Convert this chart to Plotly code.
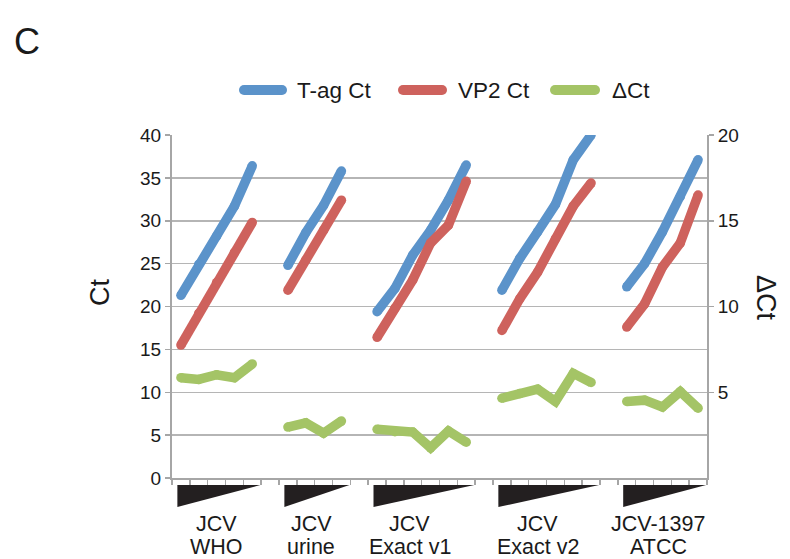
import plotly.graph_objects as go

# ---- data ----
group_line1 = ["JCV", "JCV", "JCV", "JCV", "JCV-1397"]
group_line2 = ["WHO", "urine", "Exact v1", "Exact v2", "ATCC"]
group_start = [0, 6, 11, 18, 25]          # first category index of each group
n_categories = 30

tag_who = [21.3, 24.9, 28.2, 31.7, 36.4]
tag_urine = [24.8, 28.6, 31.8, 35.8]
tag_v1 = [19.4, 22.1, 26.0, 28.9, 32.4, 36.5]
tag_v2 = [21.9, 25.6, 28.7, 31.9, 37.1, 40.0]
tag_atcc = [22.3, 25.0, 28.7, 32.8, 37.1]

vp2_who = [15.5, 19.2, 22.8, 26.3, 29.8]
vp2_urine = [21.9, 25.4, 28.9, 32.4]
vp2_v1 = [16.4, 19.8, 23.1, 27.4, 29.5, 34.6]
vp2_v2 = [17.2, 20.9, 24.0, 27.9, 31.7, 34.4]
vp2_atcc = [17.6, 20.3, 24.6, 27.4, 33.0]

dct_who = [5.85, 5.75, 6.02, 5.85, 6.65]
dct_urine = [2.97, 3.22, 2.62, 3.32]
dct_v1 = [2.84, 2.7, 2.68, 1.76, 2.74, 2.09]
dct_v2 = [4.65, 4.92, 5.18, 4.46, 6.1, 5.57]
dct_atcc = [4.46, 4.54, 4.14, 5.04, 4.07]

left_ticks = [0, 5, 10, 15, 20, 25, 30, 35, 40]
right_ticks = [5, 10, 15, 20]

series_names = ["T-ag Ct", "VP2 Ct", "\u0394Ct"]
colors = ["#5B93CA", "#CE625D", "#A4C466"]

# ---- layout geometry (pixels) ----
W, H = 790, 559
ML, MR, MT, MB = 172, 83, 135, 81
PW, PH = W - ML - MR, H - MT - MB


def px(x):
    return (x - ML) / PW


def py(y):
    return (H - MB - y) / PH


def assemble(parts):
    xs, ys = [], []
    for start, vals in zip(group_start, parts):
        if xs:
            xs.append(start - 1)
            ys.append(None)
        xs.extend(range(start, start + len(vals)))
        ys.extend(vals)
    return xs, ys


tag_x, tag_y = assemble([tag_who, tag_urine, tag_v1, tag_v2, tag_atcc])
vp2_x, vp2_y = assemble([vp2_who, vp2_urine, vp2_v1, vp2_v2, vp2_atcc])
dct_x, dct_y = assemble([dct_who, dct_urine, dct_v1, dct_v2, dct_atcc])
group_len = [len(v) for v in [tag_who, tag_urine, tag_v1, tag_v2, tag_atcc]]

LW = 9.5
fig = go.Figure()
for (xs, ys, name, col, ax) in [(tag_x, tag_y, series_names[0], colors[0], "y"),
                                 (vp2_x, vp2_y, series_names[1], colors[1], "y"),
                                 (dct_x, dct_y, series_names[2], colors[2], "y2")]:
    fig.add_trace(go.Scatter(x=xs, y=ys, mode="lines+markers", name=name, yaxis=ax,
                             line=dict(color=col, width=LW), connectgaps=False,
                             marker=dict(color=col, size=LW, line=dict(width=0)),
                             cliponaxis=True, showlegend=False, hoverinfo="skip"))

axis_gray = "#A6A6A6"
font_main = "Liberation Sans, Arial, sans-serif"
txt = "#1a1a1a"

shapes = []
annotations = []

# wedges and group labels below the x axis
label_x_px = [216, 311, 409.5, 537.5, 658]
for start, n, l1, l2, lx in zip(group_start, group_len, group_line1, group_line2, label_x_px):
    x0 = start - 0.2
    x1 = start + n - 1 + 0.45
    shapes.append(dict(type="path", xref="x", yref="paper",
                       path=f"M {x0},{py(485)} L {x1},{py(485)} L {x0},{py(507)} Z",
                       fillcolor="#231F20", line=dict(width=0)))
    for t, yy in [(l1, 523.5), (l2, 547)]:
        annotations.append(dict(x=px(lx), y=py(yy), xref="paper", yref="paper", text=t,
                                showarrow=False, xanchor="center", yanchor="middle",
                                font=dict(size=21.5, color=txt, family=font_main)))

# manual legend
leg = [(239, 287, 295), (398, 447, 456), (550, 600, 610)]
LY = 90
for (a, b, tx), name, col in zip(leg, series_names, colors):
    r = 5
    shapes.append(dict(type="line", xref="paper", yref="paper", x0=px(a + r), x1=px(b - r),
                       y0=py(LY), y1=py(LY), line=dict(color=col, width=2 * r)))
    for cx in (a + r, b - r):
        shapes.append(dict(type="circle", xref="paper", yref="paper",
                           x0=px(cx - r), x1=px(cx + r), y0=py(LY - r), y1=py(LY + r),
                           fillcolor=col, line=dict(width=0)))
    annotations.append(dict(x=px(tx), y=py(LY), xref="paper", yref="paper", text=name,
                            showarrow=False, xanchor="left", yanchor="middle",
                            font=dict(size=22.5, color=txt, family=font_main)))

annotations.append(dict(x=px(12), y=py(41), xref="paper", yref="paper", xanchor="left",
                        yanchor="middle", text="C", showarrow=False,
                        font=dict(size=36, color=txt, family=font_main)))
annotations.append(dict(x=px(100), y=py(293), xref="paper", yref="paper", text="Ct",
                        textangle=-90, showarrow=False, xanchor="center", yanchor="middle",
                        font=dict(size=27, color=txt, family=font_main)))
annotations.append(dict(x=px(766), y=py(298), xref="paper", yref="paper", text="\u0394Ct",
                        textangle=90, showarrow=False, xanchor="center", yanchor="middle",
                        font=dict(size=27, color=txt, family=font_main)))

fig.update_layout(
    width=W, height=H,
    margin=dict(l=ML, r=MR, t=MT, b=MB, autoexpand=False),
    paper_bgcolor="white", plot_bgcolor="white",
    font=dict(family=font_main, color=txt, size=19),
    showlegend=False,
    hovermode=False,
    xaxis=dict(range=[-0.5, n_categories - 0.5], tick0=-0.5, dtick=1, showticklabels=False,
               ticks="outside", ticklen=5, tickcolor=axis_gray, tickwidth=1.5,
               showline=True, linecolor=axis_gray, linewidth=2, showgrid=False, zeroline=False,
               automargin=False),
    yaxis=dict(range=[0, 40], tickvals=left_ticks, ticks="outside", ticklen=5, tickcolor=axis_gray,
               tickwidth=1.5, showline=True, linecolor=axis_gray, linewidth=2,
               gridcolor="#B5B5B5", gridwidth=1.5, zeroline=False, automargin=False,
               tickfont=dict(size=19, color=txt)),
    yaxis2=dict(range=[0, 20], tickvals=right_ticks, overlaying="y", side="right",
                ticks="outside", ticklen=5, tickcolor=axis_gray, tickwidth=1.5,
                showline=True, linecolor=axis_gray, linewidth=2, showgrid=False, zeroline=False,
                automargin=False, tickfont=dict(size=19, color=txt)),
    shapes=shapes,
    annotations=annotations,
)

fig.write_html("out.html", config={"displayModeBar": False, "staticPlot": True},
               post_script="document.body.style.margin='0';document.body.style.overflow='hidden';")
